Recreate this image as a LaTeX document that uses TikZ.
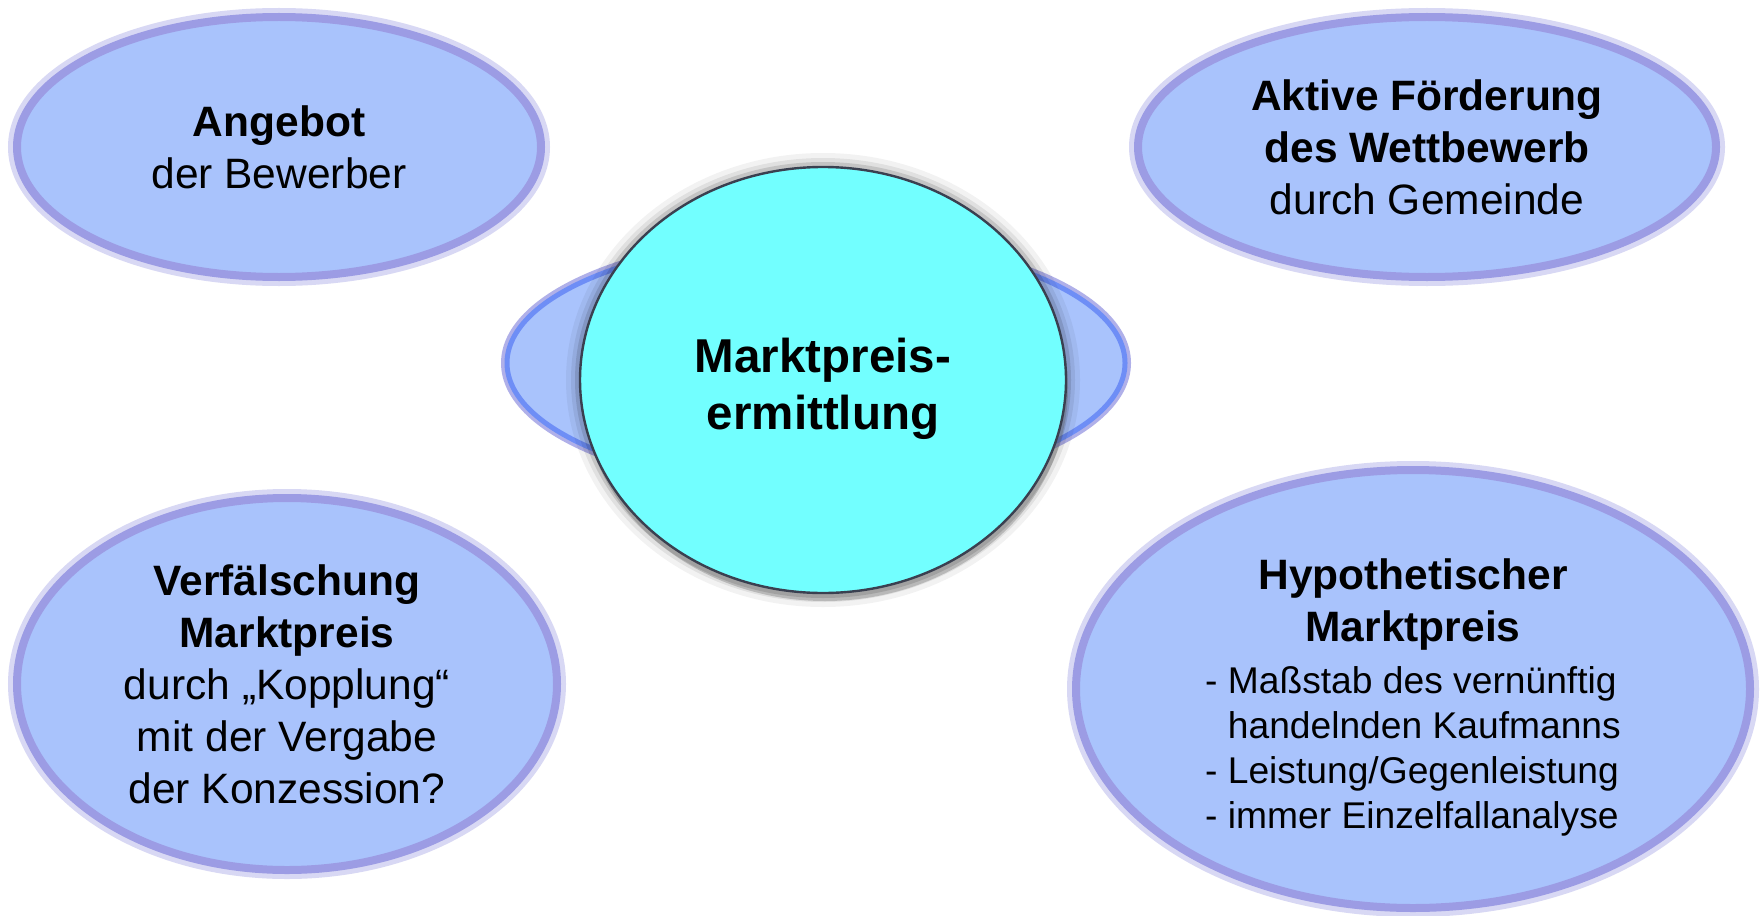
\documentclass[tikz,border=0pt]{standalone}
\usepackage{fontspec}
\setmainfont{Liberation Sans}
\usetikzlibrary{shapes.geometric,shadows}

\definecolor{blobfill}{HTML}{A9C3FC}
\definecolor{blobedge}{HTML}{9C9CE4}
\definecolor{blobglow}{HTML}{D8D8F4}
\definecolor{ringedge}{HTML}{6E8EF6}
\definecolor{corefill}{HTML}{72FFFF}
\definecolor{coreedge}{HTML}{3A4050}

\begin{document}
\begin{tikzpicture}[x=0.5pt, y=-0.5pt,
					%every node/.style={draw=red},
					topic node/.style={ellipse, fill=blobfill, draw=blobedge,
						line width=4pt, inner sep=0pt, align=center,
						font=\fontsize{21.25}{26}\selectfont,
						preaction={draw=blobglow, line width=9pt}},
					topic text/.style={inner sep=0pt, align=center,
						font=\fontsize{21.25}{26}\selectfont},
					ring node/.style={ellipse, fill=blobfill, draw=ringedge,
						line width=2.5pt, inner sep=0pt,
						preaction={draw=blobedge!80, line width=6pt}},
					core node/.style={ellipse, fill=corefill, draw=coreedge,
						line width=1.2pt, inner sep=0pt,
						drop shadow={opacity=0.35, shadow xshift=1pt, shadow yshift=-4pt},
						preaction={draw=black, opacity=0.05, line width=14pt},
						preaction={draw=black, opacity=0.07, line width=9pt},
						preaction={draw=black, opacity=0.12, line width=5pt}},
					core text/.style={inner sep=0pt, align=center,
						font=\bfseries\fontsize{23.75}{28.5}\selectfont}]

  \useasboundingbox[fill=white] (0,0) rectangle (1760,915);

  \node[topic node, minimum width=262pt, minimum height=130pt] (offer) at (279,147)
    {\textbf{Angebot}\\der Bewerber};
  \node[topic node, minimum width=289pt, minimum height=130pt] (promote) at (1427,147)
    {\textbf{Aktive Förderung}\\\textbf{des Wettbewerb}\\durch Gemeinde};
  \node[topic node, minimum width=270pt, minimum height=186pt] (distort) at (287,684)
    {\textbf{Verfälschung}\\\textbf{Marktpreis}\\durch „Kopplung“\\mit der Vergabe\\der Konzession?};
  \node[topic node, minimum width=337pt, minimum height=219pt] (hypo) at (1413,689) {};
  \node[topic text] (hypotext) at (1413,700)
    {\textbf{Hypothetischer}\\\textbf{Marktpreis}\\
     {\fontsize{18.6}{22.5}\selectfont\begin{tabular}[t]{@{}l@{}}
       - Maßstab des vernünftig\\
       \phantom{- }handelnden Kaufmanns\\
       - Leistung/Gegenleistung\\
       - immer Einzelfallanalyse
     \end{tabular}}};

  \node[ring node, minimum width=309pt, minimum height=124pt] (ring) at (816,363) {};
  \node[core node, minimum width=243pt, minimum height=213pt] (core) at (823,380) {};
  \node[core text] (coretext) at (823,389) {Marktpreis-\\ermittlung};
\end{tikzpicture}
\end{document}
